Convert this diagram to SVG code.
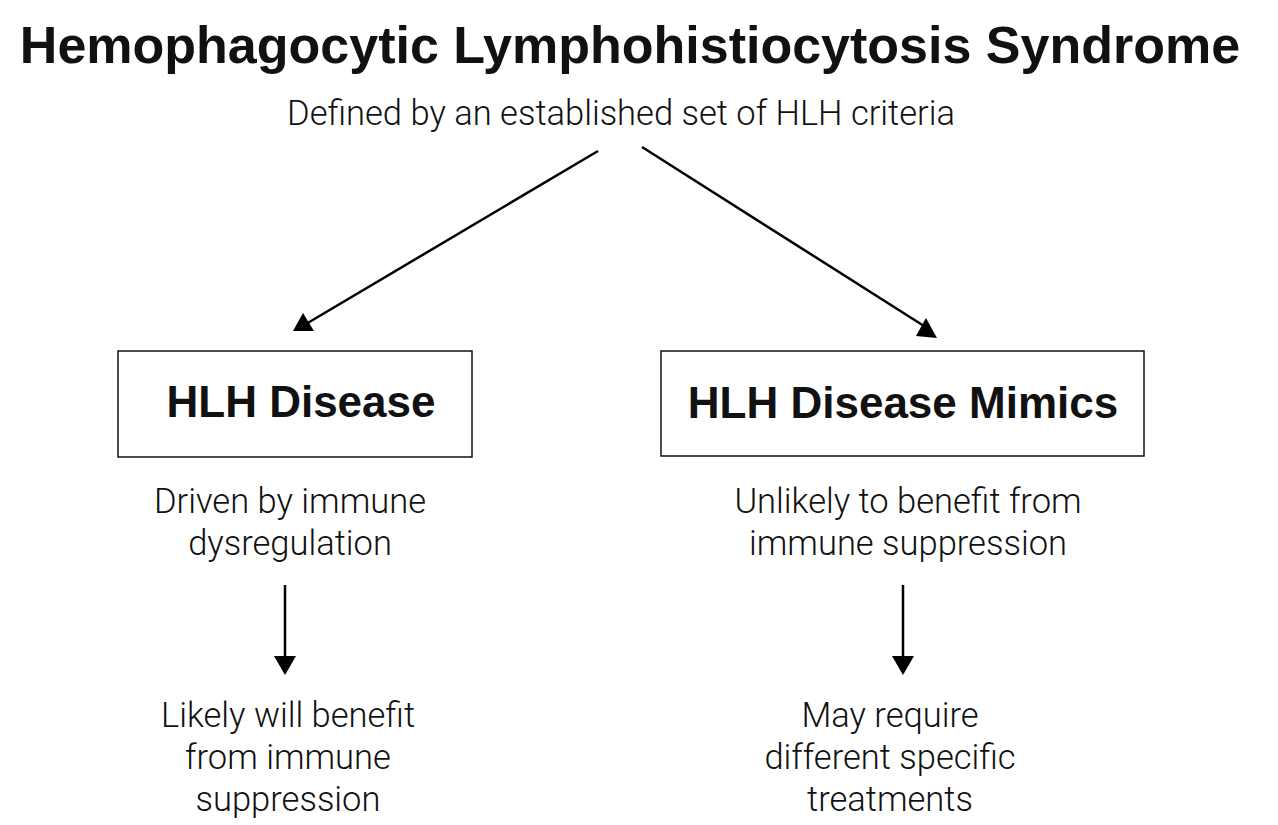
<svg xmlns="http://www.w3.org/2000/svg" width="1278" height="825" viewBox="0 0 1278 825">
<style>
.title{font-family:"Liberation Sans",Arial,sans-serif;font-weight:bold;font-size:52px;fill:#111}
.box{fill:#fff;stroke:#111;stroke-width:1.5}
.bl{font-family:"Liberation Sans",Arial,sans-serif;font-weight:bold;font-size:44px;fill:#111;text-anchor:middle}
.t{font-family:Roboto,"Liberation Sans",Arial,sans-serif;font-weight:300;font-size:34.5px;fill:#111;text-anchor:middle}
.ln{stroke:#000;stroke-width:2.5;fill:none}
.hd{fill:#000}
</style>
<rect width="1278" height="825" fill="#fff"/>
<text class="title" x="630" y="63" text-anchor="middle">Hemophagocytic Lymphohistiocytosis Syndrome</text>
<text class="t" x="621" y="125">Defined by an established set of HLH criteria</text>
<g id="connectors">
<line class="ln" x1="598" y1="151" x2="306" y2="324"/>
<polygon class="hd" points="293,331 314,331 303,313"/>
<line class="ln" x1="642" y1="147" x2="924" y2="326"/>
<polygon class="hd" points="916,336 926,318 937,338"/>
<line class="ln" x1="285" y1="585" x2="285" y2="660"/>
<polygon class="hd" points="274,656 296,656 285,675"/>
<line class="ln" x1="903" y1="585" x2="903" y2="660"/>
<polygon class="hd" points="892,656 914,656 903,675"/>
</g>
<g id="hlh-disease">
<rect class="box" x="118" y="351" width="354" height="106"/>
<text class="bl" x="301" y="417">HLH Disease</text>
</g>
<g id="hlh-mimics">
<rect class="box" x="661" y="351" width="483" height="105"/>
<text class="bl" x="903" y="418">HLH Disease Mimics</text>
</g>
<g id="driven">
<text class="t" x="290" y="513">Driven by immune</text>
<text class="t" x="290" y="555">dysregulation</text>
</g>
<g id="unlikely">
<text class="t" x="908" y="513">Unlikely to benefit from</text>
<text class="t" x="908" y="555">immune suppression</text>
</g>
<g id="likely">
<text class="t" x="288" y="727">Likely will benefit</text>
<text class="t" x="288" y="769">from immune</text>
<text class="t" x="288" y="811">suppression</text>
</g>
<g id="may">
<text class="t" x="890" y="727">May require</text>
<text class="t" x="890" y="769">different specific</text>
<text class="t" x="890" y="811">treatments</text>
</g>
</svg>
